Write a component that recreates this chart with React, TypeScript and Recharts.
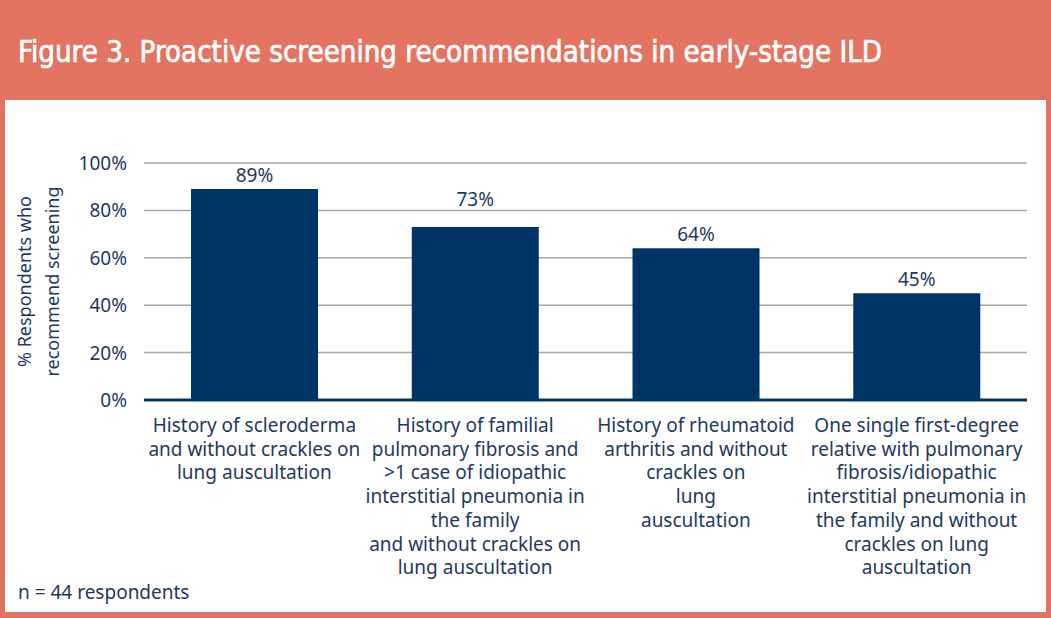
import React from "react";
import { BarChart, Bar, XAxis, YAxis, CartesianGrid, LabelList } from "recharts";

const categories: string[][] = [
  ["History of scleroderma", "and without crackles on", "lung auscultation"],
  [
    "History of familial",
    "pulmonary fibrosis and",
    ">1 case of idiopathic",
    "interstitial pneumonia in",
    "the family",
    "and without crackles on",
    "lung auscultation",
  ],
  ["History of rheumatoid", "arthritis and without", "crackles on", "lung", "auscultation"],
  [
    "One single first-degree",
    "relative with pulmonary",
    "fibrosis/idiopathic",
    "interstitial pneumonia in",
    "the family and without",
    "crackles on lung",
    "auscultation",
  ],
];
const values: number[] = [89, 73, 64, 45];
const yTicks: number[] = [0, 20, 40, 60, 80, 100];
const yAxisTitle: string[] = ["% Respondents who", "recommend screening"];
const title = "Figure 3. Proactive screening recommendations in early-stage ILD";
const footnote = "n = 44 respondents";

const data = categories.map((lines, i) => ({ key: String(i), value: values[i] }));

// style: extra lift of the value label above each bar (the reference raises the 2nd one)
const labelLift: number[] = [0, 14, 0, 0];

const NAVY = "#003466";
const TEXT = "#1c3a63";
const SALMON = "#e47462";
const FONT = "'Noto Sans', 'Open Sans', sans-serif";
const FS = 19;

const XTick = (props: any) => {
  const { x, y, payload } = props;
  const lines = categories[Number(payload.value)] || [];
  return (
    <text x={x} y={y} textAnchor="middle" fill={TEXT} fontSize={FS} fontFamily={FONT}>
      {lines.map((l, i) => (
        <tspan key={i} x={x} dy={i === 0 ? 24 : 23.7}>
          {l}
        </tspan>
      ))}
    </text>
  );
};

const YTick = (props: any) => {
  const { x, y, payload } = props;
  return (
    <text x={x} y={y} dy={7} textAnchor="end" fill={TEXT} fontSize={FS} fontFamily={FONT}>
      {payload.value}%
    </text>
  );
};

const YTitle = (props: any) => {
  const vb = props.viewBox || {};
  const cy = vb.y + vb.height / 2;
  return (
    <g>
      <text
        transform={`translate(31, ${cy}) rotate(-90)`}
        textAnchor="middle"
        fill={TEXT}
        fontSize={18}
        fontFamily={FONT}
      >
        {yAxisTitle[0]}
      </text>
      <text
        transform={`translate(59, ${cy}) rotate(-90)`}
        textAnchor="middle"
        fill={TEXT}
        fontSize={18}
        fontFamily={FONT}
      >
        {yAxisTitle[1]}
      </text>
    </g>
  );
};

const ValueLabel = (props: any) => {
  const { x, y, width, value, index } = props;
  const lift = labelLift[index] || 0;
  return (
    <text
      x={x + width / 2}
      y={y - 7 - lift}
      textAnchor="middle"
      fill={TEXT}
      fontSize={FS}
      fontFamily={FONT}
    >
      {value}%
    </text>
  );
};

export default function App() {
  return (
    <div
      style={{
        position: "absolute",
        left: 0,
        top: 0,
        width: 1051,
        height: 618,
        background: SALMON,
        overflow: "hidden",
      }}
    >
      <svg style={{ position: "absolute", left: 0, top: 0 }} width={1051} height={100}>
        <text
          x={18}
          y={62}
          fill="#ffffff"
          stroke="#ffffff"
          strokeWidth={0.7}
          fontSize={31}
          fontFamily="'Liberation Sans Narrow', 'DejaVu Sans Condensed', sans-serif"
          textLength={864}
          lengthAdjust="spacingAndGlyphs"
        >
          {title}
        </text>
      </svg>
      <div
        style={{
          position: "absolute",
          left: 5,
          top: 100,
          width: 1041,
          height: 512,
          background: "#ffffff",
        }}
      />
      <div style={{ position: "absolute", left: 0, top: 0 }}>
        <BarChart
          width={1051}
          height={618}
          data={data}
          margin={{ top: 163, right: 24, bottom: 0, left: 84 }}
          barCategoryGap="21.3%"
        >
          <CartesianGrid vertical={false} stroke="#a6a6a6" strokeWidth={1.5} />
          <XAxis
            dataKey="key"
            axisLine={{ stroke: NAVY, strokeWidth: 3 }}
            tickLine={false}
            tick={<XTick />}
            interval={0}
            height={218}
          />
          <YAxis
            width={60}
            domain={[0, 100]}
            ticks={yTicks}
            axisLine={false}
            tickLine={false}
            tickSize={0}
            tickMargin={17}
            tick={<YTick />}
            label={<YTitle />}
          />
          <Bar dataKey="value" fill={NAVY} isAnimationActive={false}>
            <LabelList dataKey="value" content={<ValueLabel />} />
          </Bar>
        </BarChart>
      </div>
      <div
        style={{
          position: "absolute",
          left: 18,
          top: 579,
          fontFamily: FONT,
          fontSize: FS,
          color: TEXT,
          lineHeight: "26px",
        }}
      >
        {footnote}
      </div>
    </div>
  );
}
